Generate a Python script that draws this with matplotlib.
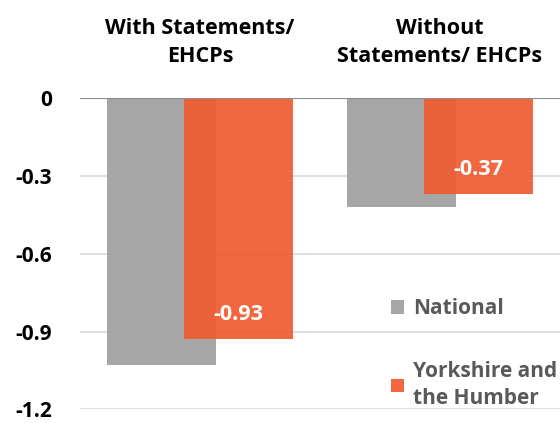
import numpy as np
import matplotlib
matplotlib.use("Agg")
import matplotlib.pyplot as plt

plt.rcParams['font.family'] = ['Open Sans', 'DejaVu Sans']

categories = ["With Statements/\nEHCPs", "Without\nStatements/ EHCPs"]
national = [-1.03, -0.42]
yorkshire = [-0.93, -0.37]
series_names = ["National", "Yorkshire and\nthe Humber"]
yticks = [0, -0.3, -0.6, -0.9, -1.2]

grey = "#a6a6a6"
orange = "#f05a30"

fig = plt.figure(figsize=(5.6, 4.23), dpi=100)
ax = fig.add_axes([0.143, 0.032, 0.857, 0.736])

x = np.arange(len(categories))
w = 0.456
off = 0.16
ax.bar(x - off, national, w, color=grey, label=series_names[0], zorder=2)
bars = ax.bar(x + off, yorkshire, w, color=orange, alpha=0.92,
              label=series_names[1], zorder=3)

for b, v in zip(bars, yorkshire):
    ax.text(b.get_x() + b.get_width() / 2, v + 0.095, f"{v:.2f}",
            ha="center", va="center", color="white", fontsize=15.5,
            fontweight="bold", zorder=4)

ax.set_xlim(-0.5, 1.5)
ax.set_ylim(-1.2, 0)
ax.set_yticks(yticks)
ax.set_yticklabels(["0", "-0.3", "-0.6", "-0.9", "-1.2"],
                   fontsize=15, fontweight="bold")
ax.tick_params(axis="y", length=0, pad=20)
ax.tick_params(axis="x", length=0)
ax.set_xticks([])
ax.yaxis.grid(True, color="#d9d9d9", linewidth=1.2, zorder=0)
ax.axhline(0, color="#8c8c8c", linewidth=1.5, zorder=5)
for s in ax.spines.values():
    s.set_visible(False)

for xi, c in zip(x, categories):
    ax.text(xi, 0.213, c, ha="center", va="center", fontsize=15.5,
            fontweight="bold", linespacing=1.45, clip_on=False)

leg = ax.legend(loc="upper left", bbox_to_anchor=(0.63, 0.385), frameon=False,
                fontsize=15, handlelength=0.65, handleheight=0.65,
                handletextpad=0.4, labelspacing=2.0, borderaxespad=0)
for t in leg.get_texts():
    t.set_color("#595959")
    t.set_fontweight("bold")
    t.set_linespacing(1.4)

fig.savefig("out.png", dpi=100)
